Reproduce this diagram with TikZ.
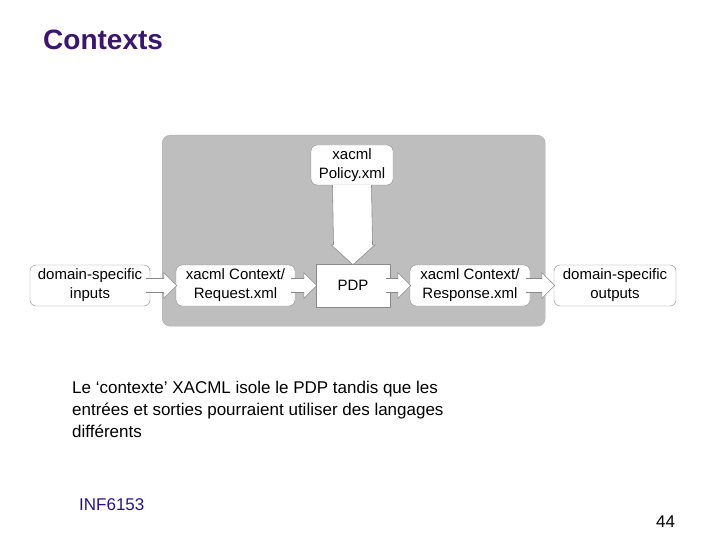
\documentclass[tikz,border=0pt]{standalone}
\usepackage{fontspec}
\setmainfont{Liberation Sans}
\usetikzlibrary{calc}
\definecolor{titlec}{HTML}{3A1670}
\definecolor{panel}{HTML}{BEBEBE}
\definecolor{edge}{HTML}{8A8A8A}
\begin{document}
\begin{tikzpicture}[x=1pt,y=-1pt,
  box/.style={draw=edge,fill=white,rounded corners=6pt,minimum width=120pt,minimum height=41pt,align=center,font=\fontsize{15}{19}\selectfont,inner sep=1pt},
  fat/.style={draw=edge,fill=white,line width=0.6pt,line join=miter}]
\useasboundingbox (0,0) rectangle (720,540);
\node[anchor=north west,text=titlec,font=\fontsize{28}{32}\selectfont\bfseries,inner sep=0] (title) at (43,30) {Contexts};
\node[fill=panel,draw=edge!70,rounded corners=8pt,minimum width=383pt,minimum height=191pt,anchor=north west,inner sep=0] (panel) at (162,135) {};
\node[box] (in) at (90,285.5) {domain-specific\\inputs};
\node[box,minimum width=119pt] (req) at (235.5,285.5) {xacml Context/\\Request.xml};
\node[box,rounded corners=0,minimum width=74pt,minimum height=43pt] (pdp) at (353,285.5) {PDP};
\node[box] (resp) at (470,285.5) {xacml Context/\\Response.xml};
\node[box,minimum width=122pt] (out) at (615,285.5) {domain-specific\\outputs};
\node[box,minimum width=82pt,minimum height=40pt] (pol) at (352,165) {xacml\\Policy.xml};
\foreach \a/\b in {in/req,req/pdp,pdp/resp,resp/out}{
  \path ($(\a.east)$) coordinate (s) ($(\b.west)$) coordinate (t);
  \draw[fat] ($(s)+(-4,-7)$) -- ($(t)+(-12,-7)$) -- ($(t)+(-12,-13)$) -- ($(t)+(1,0)$) -- ($(t)+(-12,13)$) -- ($(t)+(-12,7)$) -- ($(s)+(-4,7)$);
}
\path (pol.south) coordinate (s) (pdp.north) coordinate (t);
\draw[fat] ($(s)+(-19.5,0)$) -- ($(t)+(-19.5,-19)$) -- ($(t)+(-22,-19)$) -- ($(t)+(0,1)$) -- ($(t)+(22,-19)$) -- ($(t)+(19.5,-19)$) -- ($(s)+(19.5,0)$);
\node[anchor=north west,align=left,font=\fontsize{17}{22}\selectfont,inner sep=0] (txt) at (72,381) {Le ‘contexte’ XACML isole le PDP tandis que les\\entrées et sorties pourraient utiliser des langages\\différents};
\node[anchor=north west,text=titlec!70!blue,font=\fontsize{17}{20}\selectfont,inner sep=0] (inf) at (79,498) {INF6153};
\node[anchor=north west,font=\fontsize{17}{20}\selectfont,inner sep=0] (num) at (656,516) {44};
\end{tikzpicture}
\end{document}
